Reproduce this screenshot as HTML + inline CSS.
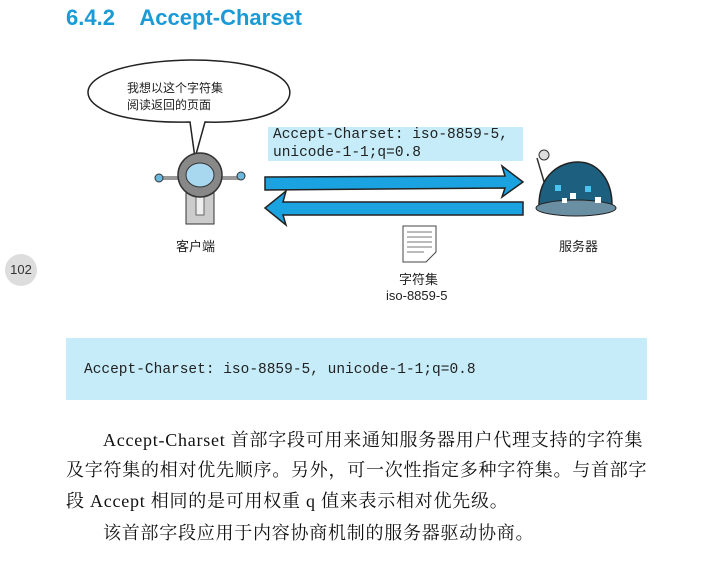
<!DOCTYPE html>
<html><head><meta charset="utf-8"><style>
body{margin:0;width:719px;height:583px;background:#fff;position:relative;overflow:hidden;font-family:"Liberation Sans","Noto Sans CJK SC",sans-serif}
.a{position:absolute;white-space:nowrap}
.p{position:absolute;left:66px;font-family:"Liberation Serif","Noto Serif CJK SC",serif;font-size:18px;letter-spacing:0.75px;color:#111;white-space:nowrap;line-height:22px}
</style></head><body>
<div class="a" style="left:66px;top:5px;font-size:22px;font-weight:bold;color:#1a9ad6">6.4.2&nbsp;&nbsp;&nbsp;&nbsp;Accept-Charset</div>
<div class="a" style="left:5px;top:254px;width:32px;height:32px;border-radius:50%;background:#ddd;font-size:13px;line-height:32px;text-align:center;color:#333">102</div>
<svg class="a" style="left:0;top:0" width="719" height="330">
<path d="M100,108 C70,90 95,62 190,60 C285,60 305,90 280,108 C265,120 230,123 205,122 L195,158 L190,122 C150,123 115,118 100,108 Z" fill="#fff" stroke="#222" stroke-width="1.5"/>
<rect x="268" y="127" width="255" height="34" fill="#c5ecf8"/>
<rect x="160" y="176" width="20" height="4" fill="#999"/><rect x="220" y="176" width="20" height="4" fill="#999"/>
<circle cx="159" cy="178" r="4" fill="#6ab8de" stroke="#333"/><circle cx="241" cy="176" r="4" fill="#6ab8de" stroke="#333"/>
<rect x="186" y="190" width="28" height="34" fill="#ccc" stroke="#333"/>
<rect x="196" y="195" width="8" height="20" fill="#eee" stroke="#666"/>
<circle cx="200" cy="175" r="22" fill="#888" stroke="#333" stroke-width="1.5"/>
<ellipse cx="200" cy="175" rx="14" ry="12" fill="#a8d8ef" stroke="#333"/>
<path d="M265,177 L505,176 L502,166 L523,182 L502,197 L505,188 L265,190 Z" fill="#1aa3e0" stroke="#222" stroke-width="1.5"/>
<path d="M523,202 L283,202 L286,191 L265,208 L286,225 L283,215 L523,215 Z" fill="#1aa3e0" stroke="#222" stroke-width="1.5"/>
<path d="M537,158 L545,185" stroke="#333" stroke-width="1.5"/>
<circle cx="544" cy="155" r="5" fill="#ddd" stroke="#333"/>
<path d="M539,205 C539,175 560,162 578,162 C598,162 612,180 612,205 Z" fill="#1d5f7e" stroke="#222" stroke-width="1.5"/>
<ellipse cx="576" cy="208" rx="40" ry="8" fill="#6a8fa3" stroke="#222"/>
<rect x="555" y="185" width="6" height="6" fill="#4ac3f0"/><rect x="570" y="193" width="6" height="6" fill="#fff"/><rect x="585" y="186" width="6" height="6" fill="#4ac3f0"/><rect x="595" y="197" width="6" height="6" fill="#fff"/><rect x="562" y="198" width="5" height="5" fill="#fff"/>
<path d="M403,226 L436,226 L436,252 L426,262 L403,262 Z" fill="#fff" stroke="#444"/>
<g stroke="#777"><line x1="407" y1="232" x2="432" y2="232"/><line x1="407" y1="237" x2="432" y2="237"/><line x1="407" y1="242" x2="432" y2="242"/><line x1="407" y1="247" x2="432" y2="247"/><line x1="407" y1="252" x2="424" y2="252"/></g>
</svg>
<div class="a" style="left:127px;top:80px;font-size:12px;line-height:17px;color:#222">我想以这个字符集<br>阅读返回的页面</div>
<div class="a" style="left:273px;top:126px;font-family:'Liberation Mono',monospace;font-size:14.5px;line-height:18px;color:#222">Accept-Charset: iso-8859-5,<br>unicode-1-1;q=0.8</div>
<div class="a" style="left:176px;top:236px;font-size:13px;color:#222">客户端</div>
<div class="a" style="left:559px;top:236px;font-size:13px;color:#222">服务器</div>
<div class="a" style="left:399px;top:269px;font-size:13px;color:#222">字符集</div>
<div class="a" style="left:386px;top:288px;font-size:13px;color:#222">iso-8859-5</div>
<div class="a" style="left:66px;top:338px;width:581px;height:62px;background:#c5ecf8"></div>
<div class="a" style="left:84px;top:362px;font-family:'Liberation Mono',monospace;font-size:14.5px;color:#222">Accept-Charset: iso-8859-5, unicode-1-1;q=0.8</div>
<div class="p" style="top:429px;left:103px">Accept-Charset 首部字段可用来通知服务器用户代理支持的字符集</div>
<div class="p" style="top:459px">及字符集的相对优先顺序。另外，可一次性指定多种字符集。与首部字</div>
<div class="p" style="top:490px">段 Accept 相同的是可用权重 q 值来表示相对优先级。</div>
<div class="p" style="top:522px;left:103px">该首部字段应用于内容协商机制的服务器驱动协商。</div>
</body></html>
